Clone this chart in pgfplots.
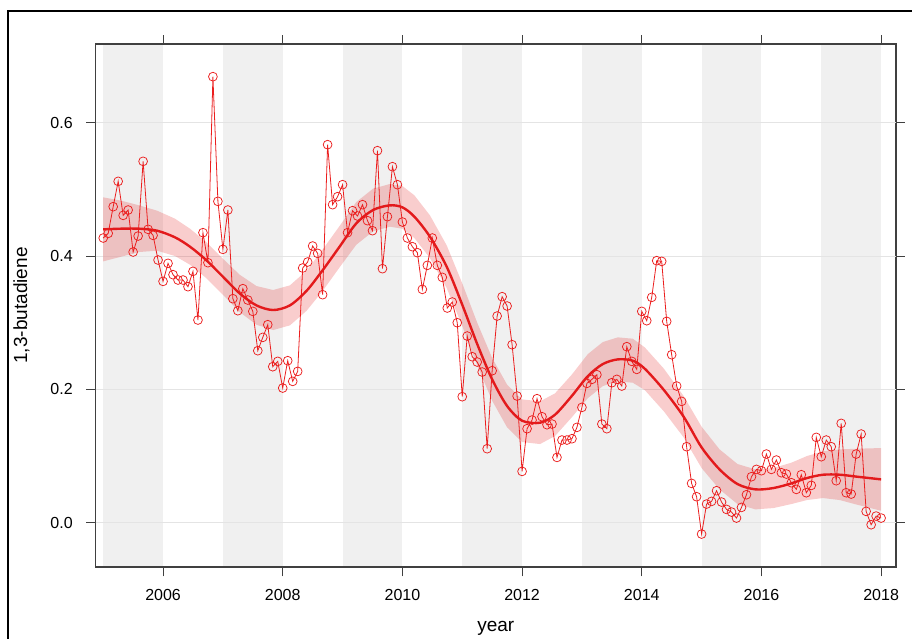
\documentclass[border=0pt]{standalone}
\usepackage{pgfplots}
\pgfplotsset{compat=1.18}
\usepackage{pgfplotstable}
\usepackage{fontspec}
\setmainfont{Liberation Sans}
\definecolor{tr}{RGB}{227,26,28}
\definecolor{pt}{RGB}{235,30,30}
\definecolor{bandc}{RGB}{240,240,240}
\definecolor{gridc}{RGB}{228,228,228}
\definecolor{axc}{RGB}{64,64,64}

\pgfplotstableread{
m v
0 0.427
1 0.434
2 0.474
3 0.512
4 0.461
5 0.469
6 0.406
7 0.430
8 0.542
9 0.440
10 0.431
11 0.394
12 0.362
13 0.389
14 0.372
15 0.364
16 0.364
17 0.354
18 0.377
19 0.304
20 0.435
21 0.390
22 0.669
23 0.482
24 0.410
25 0.469
26 0.336
27 0.318
28 0.351
29 0.334
30 0.317
31 0.258
32 0.278
33 0.297
34 0.234
35 0.242
36 0.202
37 0.243
38 0.212
39 0.227
40 0.382
41 0.391
42 0.415
43 0.404
44 0.342
45 0.567
46 0.477
47 0.489
48 0.507
49 0.435
50 0.468
51 0.460
52 0.477
53 0.453
54 0.438
55 0.558
56 0.381
57 0.459
58 0.534
59 0.507
60 0.451
61 0.427
62 0.414
63 0.405
64 0.350
65 0.386
66 0.427
67 0.386
68 0.368
69 0.322
70 0.331
71 0.300
72 0.189
73 0.280
74 0.249
75 0.241
76 0.226
77 0.111
78 0.228
79 0.310
80 0.339
81 0.325
82 0.267
83 0.190
84 0.077
85 0.141
86 0.154
87 0.186
88 0.159
89 0.147
90 0.148
91 0.098
92 0.124
93 0.124
94 0.126
95 0.143
96 0.173
97 0.209
98 0.215
99 0.222
100 0.148
101 0.141
102 0.210
103 0.215
104 0.205
105 0.264
106 0.242
107 0.230
108 0.317
109 0.303
110 0.338
111 0.393
112 0.392
113 0.302
114 0.252
115 0.205
116 0.182
117 0.114
118 0.059
119 0.039
120 -0.017
121 0.028
122 0.032
123 0.048
124 0.031
125 0.020
126 0.016
127 0.007
128 0.023
129 0.042
130 0.069
131 0.080
132 0.078
133 0.103
134 0.080
135 0.094
136 0.075
137 0.073
138 0.060
139 0.050
140 0.072
141 0.045
142 0.056
143 0.128
144 0.099
145 0.124
146 0.114
147 0.063
148 0.149
149 0.045
150 0.043
151 0.103
152 0.133
153 0.017
154 -0.003
155 0.010
156 0.007
}\obs

\pgfplotstableread{
x y
2005.00 0.440
2005.30 0.441
2005.60 0.441
2005.90 0.438
2006.20 0.428
2006.45 0.414
2006.72 0.394
2007.00 0.369
2007.28 0.344
2007.56 0.326
2007.84 0.319
2008.12 0.326
2008.40 0.348
2008.67 0.379
2008.95 0.414
2009.23 0.449
2009.51 0.469
2009.79 0.476
2010.00 0.473
2010.20 0.459
2010.46 0.429
2010.74 0.384
2011.00 0.327
2011.25 0.268
2011.50 0.215
2011.75 0.175
2012.00 0.153
2012.30 0.150
2012.55 0.162
2012.83 0.190
2013.10 0.220
2013.35 0.238
2013.60 0.245
2013.85 0.243
2014.05 0.231
2014.37 0.199
2014.70 0.159
2015.00 0.113
2015.30 0.080
2015.60 0.058
2015.90 0.050
2016.20 0.052
2016.50 0.059
2016.76 0.067
2017.03 0.072
2017.31 0.072
2017.60 0.069
2018.00 0.065
}\trend

% confidence band: upper edge forward, lower edge backward
\pgfplotstableread{
x y
2005.00 0.488
2005.30 0.483
2005.60 0.476
2005.90 0.468
2006.20 0.456
2006.45 0.441
2006.72 0.421
2007.00 0.396
2007.28 0.372
2007.56 0.355
2007.84 0.349
2008.12 0.356
2008.40 0.378
2008.67 0.410
2008.95 0.445
2009.23 0.481
2009.51 0.501
2009.79 0.508
2010.00 0.505
2010.20 0.491
2010.46 0.461
2010.74 0.416
2011.00 0.359
2011.25 0.300
2011.50 0.247
2011.75 0.207
2012.00 0.185
2012.30 0.182
2012.55 0.194
2012.83 0.222
2013.10 0.253
2013.35 0.271
2013.60 0.278
2013.85 0.276
2014.05 0.263
2014.37 0.231
2014.70 0.190
2015.00 0.144
2015.30 0.110
2015.60 0.088
2015.90 0.080
2016.20 0.082
2016.50 0.090
2016.76 0.100
2017.03 0.107
2017.31 0.110
2017.60 0.111
2018.00 0.112
2018.00 0.018
2017.60 0.027
2017.31 0.034
2017.03 0.037
2016.76 0.034
2016.50 0.028
2016.20 0.022
2015.90 0.020
2015.60 0.028
2015.30 0.050
2015.00 0.082
2014.70 0.128
2014.37 0.167
2014.05 0.199
2013.85 0.210
2013.60 0.212
2013.35 0.205
2013.10 0.187
2012.83 0.158
2012.55 0.130
2012.30 0.118
2012.00 0.121
2011.75 0.143
2011.50 0.183
2011.25 0.236
2011.00 0.295
2010.74 0.352
2010.46 0.397
2010.20 0.427
2010.00 0.441
2009.79 0.444
2009.51 0.437
2009.23 0.417
2008.95 0.383
2008.67 0.348
2008.40 0.318
2008.12 0.296
2007.84 0.289
2007.56 0.297
2007.28 0.316
2007.00 0.342
2006.72 0.367
2006.45 0.387
2006.20 0.400
2005.90 0.408
2005.60 0.406
2005.30 0.399
2005.00 0.392
}\band

\begin{document}
\begin{tikzpicture}
\useasboundingbox (0pt,0pt) rectangle (912pt,639pt);
\draw[black, line width=2pt] (8pt,-5pt) -- (8pt,628pt) -- (920pt,628pt);
\begin{axis}[
  clip=false,
  at={(95.5pt,72pt)}, anchor=south west,
  width=800.5pt, height=523pt, scale only axis,
  xmin=2004.871, xmax=2018.249, ymin=-0.0664, ymax=0.718,
  xtick={2006,2008,2010,2012,2014,2016,2018},
  ytick={0,0.2,0.4,0.6},
  xtick pos=lower, ytick pos=left,
  tick align=outside, major tick length=9.3pt,
  tick style={axc, line width=1pt},
  axis line style={axc, line width=1.2pt},
  /pgf/number format/assume math mode=true,
  xticklabel style={font=\fontsize{16}{18}\selectfont, yshift=-9pt, /pgf/number format/1000 sep={}},
  yticklabel style={font=\fontsize{16}{18}\selectfont, xshift=-10pt, /pgf/number format/fixed, /pgf/number format/fixed zerofill, /pgf/number format/precision=1},
  xlabel={year}, ylabel={1,3-butadiene},
  label style={font=\fontsize{19}{22}\selectfont},
  xlabel style={at={(rel axis cs:0.5,-0.118)}, anchor=center},
  ylabel style={at={(rel axis cs:-0.0925,0.5)}, anchor=center},
]
% alternating year bands (kept just inside the frame)
\addplot[fill=bandc, draw=none, forget plot] coordinates {(2005,-0.0645) (2006,-0.0645) (2006,0.7162) (2005,0.7162)} -- cycle;
\addplot[fill=bandc, draw=none, forget plot] coordinates {(2007,-0.0645) (2008,-0.0645) (2008,0.7162) (2007,0.7162)} -- cycle;
\addplot[fill=bandc, draw=none, forget plot] coordinates {(2009,-0.0645) (2010,-0.0645) (2010,0.7162) (2009,0.7162)} -- cycle;
\addplot[fill=bandc, draw=none, forget plot] coordinates {(2011,-0.0645) (2012,-0.0645) (2012,0.7162) (2011,0.7162)} -- cycle;
\addplot[fill=bandc, draw=none, forget plot] coordinates {(2013,-0.0645) (2014,-0.0645) (2014,0.7162) (2013,0.7162)} -- cycle;
\addplot[fill=bandc, draw=none, forget plot] coordinates {(2015,-0.0645) (2016,-0.0645) (2016,0.7162) (2015,0.7162)} -- cycle;
\addplot[fill=bandc, draw=none, forget plot] coordinates {(2017,-0.0645) (2018,-0.0645) (2018,0.7162) (2017,0.7162)} -- cycle;
% horizontal grid lines
\addplot[gridc, line width=1pt, forget plot] coordinates {(2004.873,0) (2018.247,0)};
\addplot[gridc, line width=1pt, forget plot] coordinates {(2004.873,0.2) (2018.247,0.2)};
\addplot[gridc, line width=1pt, forget plot] coordinates {(2004.873,0.4) (2018.247,0.4)};
\addplot[gridc, line width=1pt, forget plot] coordinates {(2004.873,0.6) (2018.247,0.6)};
% confidence band
\addplot[fill=tr, fill opacity=0.22, draw=none, forget plot] table[x=x,y=y]{\band} -- cycle;
% observations
\addplot[pt, line width=0.8pt, mark=o, mark size=4.4pt, mark options={line width=0.75pt}] table[x expr=2005+\thisrow{m}/12, y=v]{\obs};
% smooth trend
\addplot[tr, line width=2.4pt, smooth] table[x=x,y=y]{\trend};
\end{axis}
% ticks on the top and right sides of the frame
\draw[axc, line width=1pt] (163.06pt,595pt) -- (163.06pt,604.3pt);
\draw[axc, line width=1pt] (282.73pt,595pt) -- (282.73pt,604.3pt);
\draw[axc, line width=1pt] (402.41pt,595pt) -- (402.41pt,604.3pt);
\draw[axc, line width=1pt] (522.08pt,595pt) -- (522.08pt,604.3pt);
\draw[axc, line width=1pt] (641.76pt,595pt) -- (641.76pt,604.3pt);
\draw[axc, line width=1pt] (761.43pt,595pt) -- (761.43pt,604.3pt);
\draw[axc, line width=1pt] (881.10pt,595pt) -- (881.10pt,604.3pt);
\draw[axc, line width=1pt] (896pt,116.27pt) -- (905.3pt,116.27pt);
\draw[axc, line width=1pt] (896pt,249.62pt) -- (905.3pt,249.62pt);
\draw[axc, line width=1pt] (896pt,382.97pt) -- (905.3pt,382.97pt);
\draw[axc, line width=1pt] (896pt,516.32pt) -- (905.3pt,516.32pt);
\end{tikzpicture}
\end{document}
